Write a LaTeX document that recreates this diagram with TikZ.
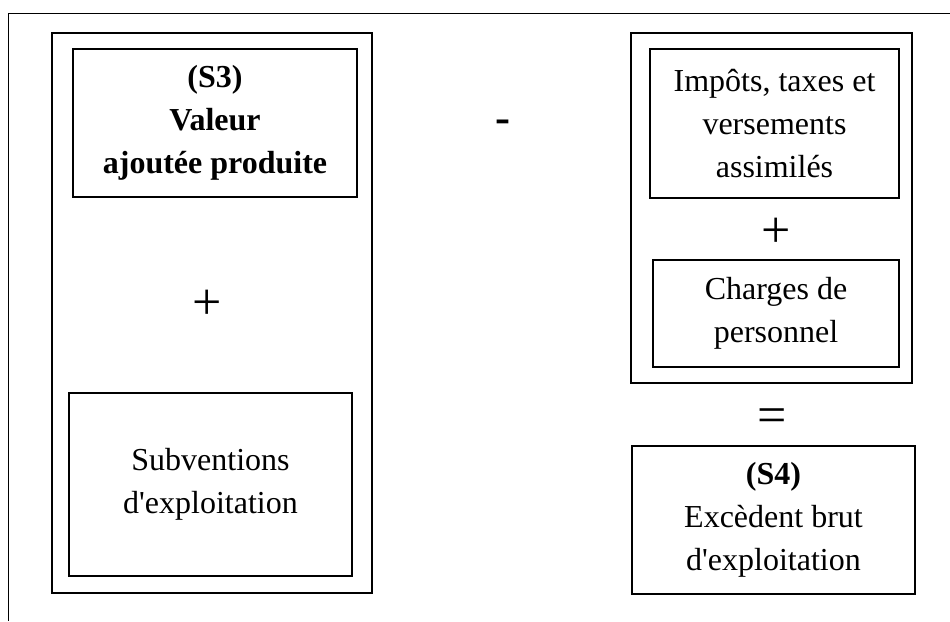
\documentclass[tikz,border=0pt]{standalone}
\usepackage{fontspec}
\setmainfont{Liberation Serif}
\usepackage{tikz}
\usetikzlibrary{positioning}

\begin{document}
\begin{tikzpicture}[
    x=1pt,
    y=-1pt,
    font=\fontsize{32}{43}\selectfont,
    frame/.style={draw, line width=1.1pt, rectangle, inner sep=0pt},
    itembox/.style={frame, align=center},
    signtext/.style={inner sep=0pt, font=\fontsize{52}{52}\selectfont}
]

% Page size
\useasboundingbox (0,0) rectangle (950,621);

% Outer frame (top and left edges)
\coordinate (frametop) at (950,13);
\coordinate (framecorner) at (8,13);
\coordinate (framebottom) at (8,621);
\draw[line width=1pt] (frametop) -- (framecorner) -- (framebottom);

% Left group
\node[frame, minimum width=320, minimum height=560]
(leftgroup) at (212,313) {};

\node[
    itembox,
    minimum width=284,
    minimum height=148
]
(valeur) at (215,123)
{\textbf{(S3)}\\\textbf{Valeur}\\\textbf{ajoutée produite}};

\node[signtext]
(plusleft) at (207,305)
{+};

\node[
    itembox,
    minimum width=283,
    minimum height=183
]
(subventions) at (210.5,484.5)
{Subventions\\d\textquotesingle exploitation};

% Minus sign
\node[
    signtext,
    font=\fontsize{45}{45}\selectfont\bfseries
]
(minus) at (503,126)
{-};

% Right group
\node[frame, minimum width=281, minimum height=350]
(rightgroup) at (771.5,208) {};

\node[
    itembox,
    minimum width=249,
    minimum height=149
]
(impots) at (774.5,123.5)
{Impôts, taxes et\\versements\\assimilés};

\node[signtext]
(plusright) at (776,233)
{+};

\node[
    itembox,
    minimum width=246,
    minimum height=107
]
(charges) at (776,313.5)
{Charges de\\personnel};

\node[signtext]
(equals) at (772,421)
{=};

% Result
\node[
    itembox,
    minimum width=283,
    minimum height=148
]
(ebe) at (773.5,520)
{\textbf{(S4)}\\Excèdent brut\\d\textquotesingle exploitation};

\end{tikzpicture}
\end{document}
